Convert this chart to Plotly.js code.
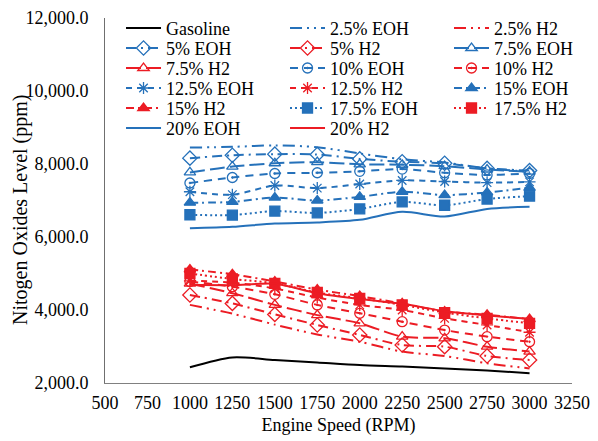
<!DOCTYPE html>
<html>
<head>
<meta charset="utf-8">
<script src="https://cdn.plot.ly/plotly-3.0.1.min.js"></script>
<style>html,body{margin:0;padding:0;background:#fff}#chart{width:598px;height:441px}</style>
</head>
<body>
<div id="chart"></div>
<script>
// ---- data ----
const rpm = [1000, 1250, 1500, 1750, 2000, 2250, 2500, 2750, 3000];
const xTickVals = [500, 750, 1000, 1250, 1500, 1750, 2000, 2250, 2500, 2750, 3000, 3250];
const yTickVals = [2000, 4000, 6000, 8000, 10000, 12000];

const gasoline = [2430, 2700, 2630, 2560, 2490, 2450, 2400, 2340, 2270];

const eoh2_5  = [8450, 8470, 8510, 8460, 8290, 8130, 8040, 7880, 7790];
const eoh5    = [8160, 8240, 8270, 8260, 8140, 8060, 8020, 7880, 7820];
const eoh7_5  = [7770, 7930, 8020, 8050, 7990, 7980, 7940, 7850, 7790];
const eoh10   = [7480, 7630, 7740, 7760, 7800, 7860, 7760, 7700, 7740];
const eoh12_5 = [7240, 7160, 7410, 7340, 7450, 7550, 7520, 7490, 7510];
const eoh15   = [6940, 6960, 7080, 7000, 7100, 7240, 7150, 7220, 7350];
const eoh17_5 = [6610, 6600, 6710, 6660, 6770, 6960, 6870, 7040, 7120];
const eoh20   = [6240, 6280, 6370, 6400, 6470, 6690, 6560, 6770, 6830];

const h2_2_5  = [4140, 3900, 3600, 3330, 3130, 2860, 2740, 2540, 2400];
const h2_5    = [4410, 4180, 3880, 3590, 3315, 3040, 2995, 2740, 2630];
const h2_7_5  = [4720, 4460, 4140, 3860, 3635, 3270, 3225, 2995, 2860];
const h2_10   = [4780, 4640, 4430, 4140, 3910, 3680, 3450, 3270, 3130];
const h2_12_5 = [4800, 4750, 4590, 4340, 4140, 4000, 3770, 3590, 3390];
const h2_15   = [5110, 4980, 4780, 4560, 4380, 4180, 3960, 3870, 3750];
const h2_17_5 = [5000, 4850, 4730, 4480, 4320, 4140, 3930, 3770, 3635];
const h2_20   = [4690, 4680, 4720, 4460, 4300, 4170, 3970, 3850, 3760];

const seriesNames = ['Gasoline', '2.5% EOH', '2.5% H2', '5% EOH', '5% H2', '7.5% EOH',
  '7.5% H2', '10% EOH', '10% H2', '12.5% EOH', '12.5% H2', '15% EOH',
  '15% H2', '17.5% EOH', '17.5% H2', '20% EOH', '20% H2'];
const seriesValues = [gasoline, eoh2_5, h2_2_5, eoh5, h2_5, eoh7_5,
  h2_7_5, eoh10, h2_10, eoh12_5, h2_12_5, eoh15,
  h2_15, eoh17_5, h2_17_5, eoh20, h2_20];

// ---- styles ----
const BLUE = '#2571BA', RED = '#EC1C24', BLACK = '#000000';
const FONT = '"Liberation Serif", "Times New Roman", "DejaVu Serif", serif';
const styleByLevel = {
  'Gasoline': {dash: 'solid', symbol: null},
  '2.5%':  {dash: '12px,5px,2px,5px,2px,5px', symbol: null},
  '5%':    {dash: '10px,5px,2px,5px', symbol: 'diamond-open', size: 11},
  '7.5%':  {dash: '15px,5px', symbol: 'triangle-up-open', size: 10},
  '10%':   {dash: '8px,6px', symbol: 'circle-open-dot', size: 10},
  '12.5%': {dash: '6px,5px', symbol: 'asterisk-open', size: 10},
  '15%':   {dash: '8px,4px,2px,4px', symbol: 'triangle-up', size: 10},
  '17.5%': {dash: '2px,3px', symbol: 'square', size: 10},
  '20%':   {dash: 'solid', symbol: null}
};

const traces = seriesNames.map((name, i) => {
  const level = name === 'Gasoline' ? 'Gasoline' : name.split(' ')[0];
  const st = styleByLevel[level];
  const color = name === 'Gasoline' ? BLACK : (name.indexOf('EOH') >= 0 ? BLUE : RED);
  const row = Math.floor(i / 3);
  const col = i % 3;
  const t = {
    type: 'scatter',
    x: rpm,
    y: seriesValues[i],
    name: name,
    mode: st.symbol ? 'lines+markers' : 'lines',
    line: {color: color, width: 2, dash: st.dash, shape: 'spline', smoothing: 0.8},
    legend: row === 0 ? 'legend' : 'legend' + (row + 1),
    legendwidth: col === 2 ? 90 : 114,
    hoverinfo: 'skip'
  };
  if (st.symbol) {
    t.marker = {symbol: st.symbol, size: st.size, color: color, line: {color: color, width: 1.3}};
  }
  return t;
});

// ---- layout ----
const PLOT_TOP = 18, PLOT_BOTTOM = 383, PLOT_H = PLOT_BOTTOM - PLOT_TOP;
const PLOT_LEFT = 105, PLOT_W = 598 - 26 - 105;
const layout = {
  width: 598, height: 441,
  margin: {l: PLOT_LEFT, r: 26, t: PLOT_TOP, b: 441 - PLOT_BOTTOM, autoexpand: false},
  paper_bgcolor: '#ffffff', plot_bgcolor: '#ffffff',
  font: {family: FONT, size: 18, color: '#000000'},
  showlegend: true,
  xaxis: {
    range: [500, 3250], tickvals: xTickVals, ticktext: xTickVals.map(String),
    showgrid: false, zeroline: false, showline: true, linecolor: '#808080', linewidth: 1,
    ticks: '', ticklabelstandoff: 3, tickfont: {family: FONT, size: 18, color: '#000'},
    title: {text: 'Engine Speed (RPM)', font: {family: FONT, size: 18, color: '#000'}, standoff: 6}
  },
  yaxis: {
    range: [2000, 12000], tickvals: yTickVals, tickformat: ',.1f',
    showgrid: false, zeroline: false, showline: true, linecolor: '#6f6f6f', linewidth: 1,
    ticks: '', ticklabelstandoff: 12, tickfont: {family: FONT, size: 18, color: '#000'}
  },
  annotations: [{
    text: 'Nitogen Oxides Level (ppm)', textangle: -90, showarrow: false,
    xref: 'paper', yref: 'paper',
    x: (20 - PLOT_LEFT) / PLOT_W, y: (PLOT_BOTTOM - 210) / PLOT_H,
    xanchor: 'center', yanchor: 'middle',
    font: {family: FONT, size: 20, color: '#000'}
  }]
};
for (let k = 0; k < 6; k++) {
  const rowCenter = 28 + 20 * k;
  const top = rowCenter - 18.2;
  const key = k === 0 ? 'legend' : 'legend' + (k + 1);
  layout[key] = {
    orientation: 'h', x: 0.0343, xanchor: 'left', y: (PLOT_BOTTOM - top) / PLOT_H, yanchor: 'top',
    bgcolor: 'rgba(0,0,0,0)', borderwidth: 0, itemwidth: 35, entrywidthmode: 'pixels',
    font: {family: FONT, size: 18, color: '#000'}, itemclick: false, itemdoubleclick: false
  };
}

Plotly.newPlot('chart', traces, layout, {displayModeBar: false, staticPlot: true});
</script>
</body>
</html>
